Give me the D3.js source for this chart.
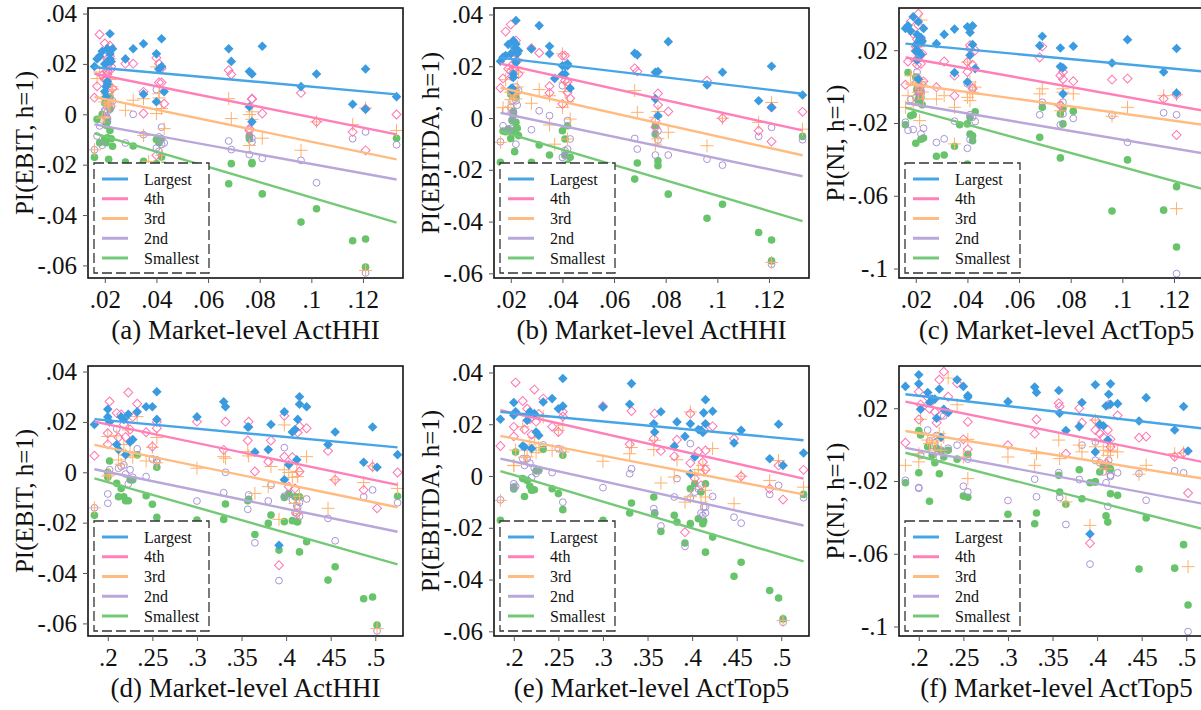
<!DOCTYPE html>
<html>
<head>
<meta charset="utf-8">
<script src="https://cdn.jsdelivr.net/npm/d3@7"></script>
<style>
  body { margin: 0; background: #fff; }
  svg { display: block; font-family: "Liberation Serif", "Times New Roman", serif; }
  svg text { font-family: "Liberation Serif", "Times New Roman", serif; }
</style>
</head>
<body>
<svg id="chart" width="1201" height="710"></svg>
<script>
// market-level concentration, one entry per market
const hhi = [
  .016, .019, .017, .020, .0205, .020, .022,
  .0225, .0205, .018, .021, .021, .022, .021,
  .023, .022, .0215, .028, .031, .035, .035,
  .037, .040, .040, .041, .041, .042, .042,
  .043, .068, .069, .076, .076, .077, .077,
  .081, .096, .102, .116, .121, .121, .133
];
const top5 = [
  .185, .200, .200, .202, .210, .212, .215,
  .218, .220, .223, .225, .228, .233, .243,
  .250, .255, .255, .300, .332, .330, .365,
  .392, .398, .412, .357, .358, .383, .415,
  .380, .423, .413, .410, .403, .407, .398,
  .415, .447, .455, .487, .497, .502, .525
];

const groups = ["Largest", "4th", "3rd", "2nd", "Smallest"];

// PI(EBIT, h=1)
const ebitLargest = [
  .019, .025, .022, .020, .011, .009, .022,
  .021, .007, .023, .012, .013, .024, .026,
  .026, .032, .021, .022, .026, .028, .008,
  -.029, .024, .005, .018, .018, .019, .030,
  .009, .026, .021, .017, .003, .016, -.003,
  .027, .011, .016, .004, .018, .002, .007
];
const ebit4th = [
  .0066, .0155, .0111, .0281, .0235, .0138, .023,
  .019, .014, .0317, .017, .022, .0272, .0159,
  .0102, .0175, .020, .0201, .0201, .0089, .0003,
  -.0369, .0224, -.0163, .0126, .0201, .0126, .0183,
  .0042, .0175, .0158, -.0064, -.0057, .006, .0062,
  .0003, .0085, -.003, -.007, .0022, -.0143, -.0001
];
const ebit3rd = [
  -.0141, -.0015, .0142, -.001, .0145, .0049, .0032,
  .011, .0068, .0168, .008, .006, .0221, .0045,
  .0099, .0138, .0038, .0016, .0056, .0062, -.0084,
  -.0187, .0188, .0003, .0082, .0065, .0023, -.0163,
  -.0057, .0062, -.0017, -.0124, -.0001, -.002, .001,
  -.0095, -.0143, -.003, -.0041, .0025, -.062, -.0064
];
const ebit2nd = [
  -.0141, -.0123, -.0086, .001, .0172, .0016, .0023,
  .0029, -.0007, -.0046, .001, -.002, .0093, -.0017,
  .0053, .0049, .004, -.0114, 0, -.0081, -.028,
  -.043, .0098, -.0134, -.0147, -.009, -.0051, -.012,
  -.0114, -.0106, -.014, -.016, -.0089, -.011, -.0095,
  -.0175, -.0183, -.0272, -.0097, -.007, -.063, -.0121
];
const ebitSmallest = [
  -.0171, 0, -.002, .0045, -.0044, -.0097, -.0064,
  -.0097, -.0113, -.0113, -.003, -.003, .0069, -.0093,
  -.0127, .002, -.0179, -.019, -.0126, -.0187, -.0247,
  -.0309, -.010, -.0196, -.0113, -.0107, -.017, -.0097,
  -.0203, -.0276, -.0196, -.0097, -.0084, -.0192, -.0196,
  -.0316, -.0428, -.0375, -.0502, -.0495, -.0607, -.0095
];

// PI(EBITDA, h=1)
const ebitdaLargest = [
  .0219, .0284, .0235, .0248, .0116, .0112, .0215,
  .0248, .0106, .0241, .017, .0157, .0286, .0299,
  .026, .0377, .027, .0267, .0357, .0277, .0248,
  .0153, .0202, .0168, .0202, .017, .0209, .0202,
  .0115, .025, .0244, .0177, .0074, .018, .0009,
  .0295, .0128, .0177, .0067, .02, .0041, .0089
];
const ebitda4th = [
  .0116, .019, .0153, .0361, .029, .018, .026,
  .022, .016, .0334, .021, .024, .0299, .019,
  .017, .0248, .023, .027, .0251, .0123, .0097,
  -.0217, .0241, .0054, .0144, .0241, .014, .0099,
  .0076, .0192, .018, -.0036, -.001, .0095, .005,
  .0025, .0144, -.0001, -.0049, .0041, -.0091, .0024
];
const ebitda3rd = [
  -.0094, .0041, .004, .01, .019, .0071, .0074,
  .012, .01, .0148, .009, .011, .0228, .0099,
  .0177, .0196, .0093, .0057, .011, .0086, -.0027,
  -.0101, .0248, .0041, .0102, .0138, .0063, -.0081,
  -.0004, .0106, .0022, -.0101, .0003, .0025, -.008,
  -.0055, -.0107, -.0001, -.0017, .006, -.0558, -.0043
];
const ebitda2nd = [
  -.0092, -.0045, -.003, -.004, .0067, .0041, .0067,
  .005, -.0006, .003, .001, .002, .012, .0013,
  .0106, -.0101, .0099, -.0045, .0028, .0009, -.0193,
  -.0272, .0125, -.0152, -.0126, -.0146, -.001, -.012,
  -.0081, -.0079, -.012, -.0143, -.0062, -.005, -.0085,
  -.0143, -.0159, -.0182, -.0071, -.0036, -.0565, -.0084
];
const ebitdaSmallest = [
  -.0171, -.0043, -.005, .0093, -.001, -.0079, -.0017,
  -.004, -.0055, -.0053, .002, .0025, .0103, -.0049,
  -.0068, .008, -.013, -.0171, -.0104, -.0143, -.0214,
  -.0259, -.0049, -.0184, -.0081, -.0142, -.0178, -.003,
  -.0152, -.0236, -.0174, -.0062, -.003, -.0165, -.0184,
  -.0294, -.0387, -.0333, -.0442, -.0471, -.0552, -.0071
];

// PI(NI, h=1)
const niLargest = [
  .032, .0384, .0334, .0194, .0286, .0231, .025,
  .025, .0145, .0306, .004, .0194, .0176, .0356,
  .032, .027, .026, .0236, .0287, .0316, .0077,
  -.0491, .0329, .0025, .0297, .0172, .0231, .0334,
  .0099, .0225, .0277, .0212, .011, .0104, -.004,
  .0222, .013, .0258, .008, .0209, -.0035, .008
];
const ni4th = [
  .001, .0291, .0138, .022, .026, .0197, .024,
  .018, .012, .0357, .016, .0401, .0263, .0337,
  .0029, .0125, -.0026, -.0003, .0138, .006, -.005,
  -.0542, .0135, .008, .0227, .0209, .012, -.0012,
  .02, .016, .022, -.0104, .0061, .004, .008,
  .003, .0038, .0044, -.0067, -.0045, -.0266, -.01
];
const ni3rd = [
  -.0114, -.0095, -.005, .0139, .0025, .0006, .001,
  -.003, .002, .006, -.0031, .004, .0366, .0219,
  -.0068, .0029, -.0187, -.0068, -.005, -.0114, -.0315,
  -.0444, .0135, -.0059, .0025, -.0077, -.004, -.0031,
  -.0003, -.004, -.0012, -.0133, -.0105, -.0031, -.0012,
  -.004, -.0163, -.0114, -.005, -.0045, -.0671, -.014
];
const ni2nd = [
  -.0196, -.0236, -.024, -.006, .008, .002, -.004,
  .001, .005, -.0071, -.003, .0158, -.002, -.0003,
  -.0229, -.026, -.008, -.0307, -.0287, -.019, -.0439,
  -.0657, .0015, -.0339, -.0154, -.0291, -.0003, -.0168,
  -.0192, -.0155, -.0086, -.021, -.01, -.015, -.0086,
  -.0175, -.0159, -.0306, -.0144, -.0155, -.1028, -.018
];
const niSmallest = [
  -.021, -.0155, .0077, .0053, -.0012, -.0311, -.006,
  -.010, -.002, -.016, -.0035, -.0068, -.0031, -.008,
  -.0283, -.0289, -.0053, -.0383, -.0376, -.0435, -.0328,
  -.021, -.0205, -.0426, -.0169, -.0261, -.0298, -.027,
  -.0138, -.0279, -.0114, -.0392, -.015, -.012, -.0205,
  -.0135, -.0684, -.0403, -.0679, -.055, -.0882, -.03
];

// fitted lines: [y at min x, y at max x], Largest..Smallest
const fitA = [[.0187, .0079], [.0161, -.0080], [.0069, -.0179], [-.0040, -.0259], [-.0076, -.0430]];
const fitB = [[.0233, .0094], [.0210, -.0048], [.0117, -.0144], [.0020, -.0225], [-.0051, -.0398]];
const fitC = [[.0236, .0081], [.0160, -.0136], [.0017, -.0213], [-.0090, -.0371], [-.0116, -.0570]];
const fitD = [[.0211, .0099], [.0201, -.0050], [.0109, -.0139], [.0012, -.0236], [-.0024, -.0366]];
const fitE = [[.0248, .0138], [.0254, -.0010], [.0155, -.0071], [.0067, -.0191], [.0019, -.0330]];
const fitF = [[.0277, .0085], [.0236, -.0102], [.0075, -.0192], [-.0018, -.0331], [-.0045, -.0472]];

const hhiTicks = [.02, .04, .06, .08, .1, .12];
const top5Ticks = [.2, .25, .3, .35, .4, .45, .5];
const ebitTicks = [.04, .02, 0, -.02, -.04, -.06];
const niTicks = [.02, -.02, -.06, -.1];

const colors = {
  Largest: { mark: "#3b9be0", line: "#46a5e6" },
  "4th": { mark: "#ff75b2", line: "#ff80b9" },
  "3rd": { mark: "#ffb16b", line: "#ffbb80" },
  "2nd": { mark: "#aa94d6", line: "#b9a6da" },
  Smallest: { mark: "#67c46b", line: "#74c977" }
};

const ebit = [ebitLargest, ebit4th, ebit3rd, ebit2nd, ebitSmallest];
const ebitda = [ebitdaLargest, ebitda4th, ebitda3rd, ebitda2nd, ebitdaSmallest];
const ni = [niLargest, ni4th, ni3rd, ni2nd, niSmallest];

const panels = [
  { col: 0, row: 0, xs: hhi, ys: ebit, yDom: [-.065, .0422], xDom: [.0135, .1355], xt: hhiTicks, yt: ebitTicks, fit: fitA, ylab: "PI(EBIT, h=1)", cap: "(a) Market-level ActHHI" },
  { col: 1, row: 0, xs: hhi, ys: ebitda, yDom: [-.0618, .0425], xDom: [.0135, .1355], xt: hhiTicks, yt: ebitTicks, fit: fitB, ylab: "PI(EBITDA, h=1)", cap: "(b) Market-level ActHHI" },
  { col: 2, row: 0, xs: hhi, ys: ni, yDom: [-.1052, .0432], xDom: [.0135, .1355], xt: hhiTicks, yt: niTicks, fit: fitC, ylab: "PI(NI, h=1)", cap: "(c) Market-level ActTop5" },
  { col: 0, row: 1, xs: top5, ys: ebit, yDom: [-.065, .0422], xDom: [.1778, .5311], xt: top5Ticks, yt: ebitTicks, fit: fitD, ylab: "PI(EBIT, h=1)", cap: "(d) Market-level ActHHI" },
  { col: 1, row: 1, xs: top5, ys: ebitda, yDom: [-.0618, .0425], xDom: [.1778, .5311], xt: top5Ticks, yt: ebitTicks, fit: fitE, ylab: "PI(EBITDA, h=1)", cap: "(e) Market-level ActTop5" },
  { col: 2, row: 1, xs: top5, ys: ni, yDom: [-.1052, .0432], xDom: [.1778, .5311], xt: top5Ticks, yt: niTicks, fit: fitF, ylab: "PI(NI, h=1)", cap: "(f) Market-level ActTop5" }
];

const colLeft = [88, 494, 899];
const rowTop = [8, 366];
const pw = 315, ph = 270;

const fmt = v => v === 0 ? "0" : (v < 0 ? "-" : "") + String(Math.abs(v)).replace(/^0/, "");

const svg = d3.select("#chart");
svg.append("rect").attr("width", 1201).attr("height", 710).attr("fill", "#fff");

const diamond = d3.symbol().type(d3.symbolSquare).size(46)();
const hollowDiamond = d3.symbol().type(d3.symbolSquare).size(40)();

function drawMarks(g, gi, pts, x, y) {
  const name = groups[gi];
  const c = colors[name].mark;
  const sel = g.append("g").selectAll("path").data(pts).enter();
  if (name === "Largest") {
    sel.append("path").attr("d", diamond)
      .attr("transform", d => `translate(${x(d.x)},${y(d.y)}) rotate(45)`)
      .attr("fill", c);
  } else if (name === "4th") {
    sel.append("path").attr("d", hollowDiamond)
      .attr("transform", d => `translate(${x(d.x)},${y(d.y)}) rotate(45)`)
      .attr("fill", "none").attr("stroke", c).attr("stroke-width", 1);
  } else if (name === "3rd") {
    sel.append("path").attr("d", "M-6.5,0H6.5M0,-6.5V6.5")
      .attr("transform", d => `translate(${x(d.x)},${y(d.y)})`)
      .attr("fill", "none").attr("stroke", c).attr("stroke-width", 1);
  } else if (name === "2nd") {
    sel.append("circle").attr("cx", d => x(d.x)).attr("cy", d => y(d.y)).attr("r", 3.4)
      .attr("fill", "none").attr("stroke", c).attr("stroke-width", 1);
  } else {
    sel.append("circle").attr("cx", d => x(d.x)).attr("cy", d => y(d.y)).attr("r", 3.8)
      .attr("fill", c);
  }
}

panels.forEach(p => {
  const left = colLeft[p.col], top = rowTop[p.row];
  const x = d3.scaleLinear().domain(p.xDom).range([left, left + pw]);
  const y = d3.scaleLinear().domain(p.yDom).range([top + ph, top]);
  const g = svg.append("g");
  const [xmin, xmax] = d3.extent(p.xs);

  // points, smallest group first so the largest sits on top
  [4, 3, 2, 1, 0].forEach(gi => {
    const pts = p.xs.map((xv, i) => ({ x: xv, y: p.ys[gi][i] }));
    drawMarks(g, gi, pts, x, y);
  });

  // fitted lines
  const line = d3.line().x(d => x(d[0])).y(d => y(d[1]));
  [4, 3, 2, 1, 0].forEach(gi => {
    g.append("path")
      .datum([[xmin, p.fit[gi][0]], [xmax, p.fit[gi][1]]])
      .attr("d", line)
      .attr("fill", "none")
      .attr("stroke", colors[groups[gi]].line)
      .attr("stroke-width", 2.4);
  });

  // legend
  const lx = left + 6, ly = top + ph - 115;
  const lg = g.append("g").attr("transform", `translate(${lx},${ly})`);
  lg.append("rect").attr("width", 115).attr("height", 110)
    .attr("fill", "#fff").attr("stroke", "#333").attr("stroke-width", 1.3)
    .attr("stroke-dasharray", "10,4");
  groups.forEach((name, i) => {
    const yy = 16 + i * 19.75;
    lg.append("line").attr("x1", 8).attr("x2", 34).attr("y1", yy).attr("y2", yy)
      .attr("stroke", colors[name].line).attr("stroke-width", 3);
    lg.append("text").attr("x", 50).attr("y", yy).attr("dy", "0.35em")
      .attr("font-size", 16).attr("fill", "#111").text(name);
  });

  // frame
  g.append("rect").attr("x", left).attr("y", top).attr("width", pw).attr("height", ph)
    .attr("fill", "none").attr("stroke", "#111").attr("stroke-width", 1.6);

  // axes
  const ya = g.append("g").attr("transform", `translate(${left},0)`)
    .call(d3.axisLeft(y).tickValues(p.yt).tickFormat(fmt).tickSize(5).tickPadding(6));
  const xa = g.append("g").attr("transform", `translate(0,${top + ph})`)
    .call(d3.axisBottom(x).tickValues(p.xt).tickFormat(fmt).tickSize(5).tickPadding(7));
  [ya, xa].forEach(a => {
    a.attr("font-family", null).attr("font-size", null);
    a.select(".domain").remove();
    a.selectAll(".tick line").attr("stroke", "#555");
    a.selectAll("text").style("font-size", "25px").attr("fill", "#111")
      .style("font-family", "'Liberation Serif', serif");
  });

  // axis titles
  g.append("text")
    .attr("transform", `translate(${left - 55},${top + ph / 2}) rotate(-90)`)
    .attr("text-anchor", "middle").attr("font-size", 25).attr("fill", "#111")
    .text(p.ylab);
  g.append("text")
    .attr("x", left + pw / 2).attr("y", top + ph + 61)
    .attr("text-anchor", "middle").attr("font-size", 27).attr("fill", "#111")
    .text(p.cap);
});
</script>
</body>
</html>
